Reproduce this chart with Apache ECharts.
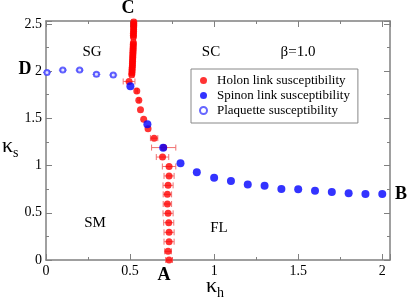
<!DOCTYPE html>
<html><head><meta charset="utf-8">
<script src="https://cdn.jsdelivr.net/npm/echarts@6/dist/echarts.min.js"></script>
<style>html,body{margin:0;padding:0;background:#fff}#c{width:409px;height:303px}</style>
</head><body><div id="c"></div>
<script>
// Holon link susceptibility: x (kappa_h), y (kappa_s), horizontal error
const holonX = [0.522,0.522,0.522,0.521,0.521,0.521,0.520,0.520,0.520,
  0.520,0.519,0.519,0.518,0.518,0.517,0.517,0.516,0.516,0.515,0.515,0.514,0.514,0.513,0.512,0.512,0.511,0.510,
  0.494,0.540,0.552,0.562,0.581,0.607,0.643,0.700,0.693,0.732,0.732,0.726,0.722,0.722,0.726,0.730,0.732,0.732,0.726,0.732];
const holonY = [2.52,2.50,2.48,2.46,2.44,2.42,2.40,2.38,2.36,
  2.30,2.28,2.26,2.24,2.22,2.20,2.18,2.16,2.14,2.12,2.10,2.08,2.06,2.04,2.02,2.00,1.98,1.96,
  1.89,1.79,1.69,1.59,1.49,1.39,1.29,1.19,1.09,0.99,0.89,0.79,0.695,0.593,0.494,0.395,0.293,0.194,0.092,0.0];
const holonErr = [0.012,0.012,0.012,0.012,0.012,0.012,0.012,0.012,0.012,
  0.012,0.012,0.012,0.012,0.012,0.012,0.012,0.012,0.012,0.012,0.012,0.012,0.012,0.012,0.012,0.012,0.012,0.012,
  0.035,0.005,0.005,0,0,0,0.022,0.072,0.037,0.04,0.03,0.03,0.025,0.025,0.03,0.03,0.03,0.03,0.02,0.02];
// Spinon link susceptibility
const spinonX = [0.502,0.603,0.697,0.80,0.897,1.0,1.1,1.2,1.3,1.4,1.5,1.6,1.7,1.8,1.9,2.0];
const spinonY = [1.84,1.436,1.188,1.023,0.928,0.871,0.836,0.80,0.786,0.751,0.748,0.733,0.72,0.706,0.698,0.698];
// Plaquette susceptibility
const plaqX = [0.006,0.1,0.2,0.3,0.4];
const plaqY = [1.986,2.01,2.01,1.965,1.958];
const plaqErr = [0.015,0.015,0.015,0.018,0.018];
// Axis ticks
const xTicks = [0,0.5,1,1.5,2];
const yTicks = [0,0.5,1,1.5,2,2.5];

const FONT = 'Liberation Serif';
const AX = '#808080';
const holonData = holonX.map((x,i)=>[x,holonY[i],holonErr[i]]);
const spinonData = spinonX.map((x,i)=>[x,spinonY[i]]);
const plaqData = plaqX.map((x,i)=>[x,plaqY[i],plaqErr[i]]);

function errH(color){
  return function(params, api){
    const x=api.value(0), y=api.value(1), e=api.value(2);
    if(!e) return null;
    const a=api.coord([x-e,y]), b=api.coord([x+e,y]);
    const st={stroke:color,lineWidth:1};
    return {type:'group',children:[
      {type:'line',shape:{x1:a[0],y1:a[1],x2:b[0],y2:b[1]},style:st},
      {type:'line',shape:{x1:a[0],y1:a[1]-3,x2:a[0],y2:a[1]+3},style:st},
      {type:'line',shape:{x1:b[0],y1:b[1]-3,x2:b[0],y2:b[1]+3},style:st}]};
  };
}
function errV(color){
  return function(params, api){
    const x=api.value(0), y=api.value(1), e=api.value(2);
    const a=api.coord([x,y-e]), b=api.coord([x,y+e]);
    const st={stroke:color,lineWidth:1};
    return {type:'group',children:[
      {type:'line',shape:{x1:a[0],y1:a[1],x2:b[0],y2:b[1]},style:st},
      {type:'line',shape:{x1:a[0]-3,y1:a[1],x2:a[0]+3,y2:a[1]},style:st},
      {type:'line',shape:{x1:b[0]-3,y1:b[1],x2:b[0]+3,y2:b[1]},style:st},
      {type:'line',shape:{x1:a[0]-4,y1:(a[1]+b[1])/2,x2:a[0]+4,y2:(a[1]+b[1])/2},style:st}]};
  };
}
const isTick=(v,arr)=>arr.some(t=>Math.abs(t-v)<1e-6);
const XMAX=2.046, YMAX=2.53;
function xAx(pos, minor, labels){
  return {type:'value',min:0,max:XMAX,interval:minor?0.25:0.5,position:pos,
    axisLine:{show:!minor,onZero:false,lineStyle:{color:AX,width:1.5}},
    axisTick:{show:true,inside:true,length:minor?3:6,lineStyle:{color:AX,width:1}},
    splitLine:{show:false},
    axisLabel:{show:labels,margin:4,color:'#000',fontFamily:FONT,fontSize:14,
      formatter:v=>isTick(v,xTicks)?String(v):''}};
}
function yAx(pos, minor, labels){
  return {type:'value',min:0,max:YMAX,interval:minor?0.25:0.5,position:pos,
    axisLine:{show:!minor,onZero:false,lineStyle:{color:AX,width:1.5}},
    axisTick:{show:true,inside:true,length:minor?3:6,lineStyle:{color:AX,width:1}},
    splitLine:{show:false},
    axisLabel:{show:labels,margin:4,color:'#000',fontFamily:FONT,fontSize:14,
      formatter:v=>isTick(v,yTicks)?String(v):''}};
}
function txt(x,y,t,size,bold){
  return {type:'text',x:x,y:y,style:{text:t,fontFamily:FONT,fontSize:size,fontWeight:bold?'bold':'normal',fill:'#000',align:'center',verticalAlign:'middle'}};
}
const chart = echarts.init(document.getElementById('c'),null,{renderer:'canvas'});
chart.setOption({
  animation:false,
  backgroundColor:'#fff',
  grid:{left:46,right:19,top:21,bottom:43,containLabel:false},
  xAxis:[xAx('bottom',false,true),xAx('bottom',true,false),xAx('top',false,false),xAx('top',true,false)],
  yAxis:[yAx('left',false,true),yAx('left',true,false),yAx('right',false,false),yAx('right',true,false)],
  legend:{left:191,top:69,orient:'vertical',itemWidth:7,itemHeight:7,itemGap:2,padding:[5,8,6,8],
    borderColor:'#888',borderWidth:1,backgroundColor:'#fff',
    textStyle:{fontFamily:FONT,fontSize:13,color:'#000',padding:[0,0,0,5]},
    data:[{name:'Holon link susceptibility',icon:'circle'},{name:'Spinon link susceptibility',icon:'circle'},{name:'Plaquette susceptibility',icon:'emptyCircle'}]},
  series:[
    {name:'holonErr',type:'custom',renderItem:errH('#f07070'),data:holonData,encode:{x:0,y:1},z:2},
    {name:'Holon link susceptibility',type:'scatter',data:holonData.map(d=>[d[0],d[1]]),symbol:'circle',symbolSize:7,itemStyle:{color:'#ff0000'},z:3},
    {name:'Spinon link susceptibility',type:'scatter',data:spinonData,symbol:'circle',symbolSize:8,itemStyle:{color:'#0000ff'},z:4},
    {name:'plaqErr',type:'custom',renderItem:errV('#6060ff'),data:plaqData,encode:{x:0,y:1},z:2},
    {name:'Plaquette susceptibility',type:'scatter',data:plaqData.map(d=>[d[0],d[1]]),symbol:'emptyCircle',symbolSize:5,itemStyle:{color:'#4040ff',borderColor:'#4040ff',borderWidth:1},z:3}
  ],
  graphic:[
    txt(128,8,'C',18,true), txt(25,69,'D',18,true), txt(164,275,'A',18,true), txt(401,194,'B',18,true),
    txt(92,52,'SG',15), txt(211,52,'SC',15), txt(298,52,'β=1.0',15),
    txt(95,223,'SM',15), txt(219,228,'FL',15),
    {type:'text',x:2,y:132,style:{text:'{k|κ}{s|s}',fontFamily:FONT,fill:'#000',rich:{k:{fontSize:22,fontFamily:FONT},s:{fontSize:14,fontFamily:FONT,padding:[14,0,0,0]}}}},
    {type:'text',x:206,y:272,style:{text:'{k|κ}{s|h}',fontFamily:FONT,fill:'#000',rich:{k:{fontSize:22,fontFamily:FONT},s:{fontSize:14,fontFamily:FONT,padding:[14,0,0,0]}}}}
  ]
});
</script></body></html>
